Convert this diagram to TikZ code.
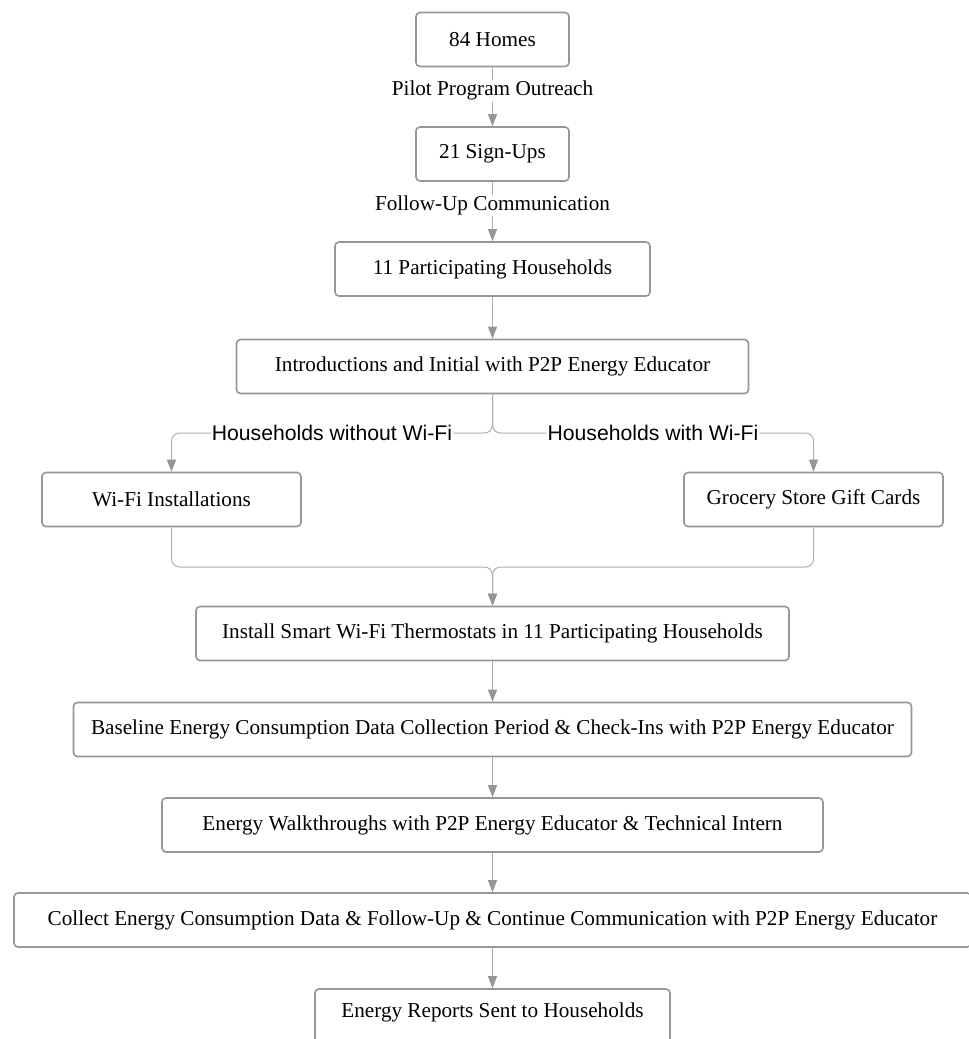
\documentclass[tikz,border=0pt]{standalone}
\usepackage{fontspec}
\setmainfont{Liberation Serif}
\newfontfamily\labelfont{Liberation Sans}
\usetikzlibrary{arrows.meta}

\definecolor{boxgray}{RGB}{150,150,150}
\definecolor{linegray}{RGB}{175,175,175}
\definecolor{tipgray}{RGB}{150,150,150}

\tikzset{
    stepbox/.style={draw=boxgray,line width=1.6pt,rounded corners=4pt,fill=white,
        minimum height=54pt,inner sep=0pt,font=\fontsize{21.2}{25}\selectfont},
    flow/.style={draw=linegray,line width=1pt,rounded corners=8pt,
        -{Triangle[width=9pt,length=12pt,color=tipgray]}},
    lbl/.style={fill=white,inner sep=1pt,font=\fontsize{21.2}{25}\selectfont},
    sidelbl/.style={fill=white,inner sep=1pt,font=\labelfont\fontsize{21.2}{25}\selectfont}
}

\begin{document}
\begin{tikzpicture}[x=1pt,y=-1pt]
    \useasboundingbox (0,0) rectangle (969,1039);
    % boxes
    \node[stepbox,minimum width=153pt] (homes) at (492.5,39.5) {84 Homes};
    \node[stepbox,minimum width=153pt] (signups) at (492.5,154) {21 Sign-Ups};
    \node[stepbox,minimum width=315pt] (participants) at (492.5,269) {11 Participating Households};
    \node[stepbox,minimum width=512pt] (intro) at (492.5,366.5) {Introductions and Initial with P2P Energy Educator};
    \node[stepbox,minimum width=259pt] (wifi) at (171.5,499.5) {Wi-Fi Installations};
    \node[stepbox,minimum width=259pt] (gift) at (813.5,499.5) {Grocery Store Gift Cards};
    \node[stepbox,minimum width=593pt] (install) at (492.5,633.5) {Install Smart Wi-Fi Thermostats in 11 Participating Households};
    \node[stepbox,minimum width=838pt] (baseline) at (492.5,729.5) {Baseline Energy Consumption Data Collection Period \& Check-Ins with P2P Energy Educator};
    \node[stepbox,minimum width=661pt] (walk) at (492.5,825) {Energy Walkthroughs with P2P Energy Educator \& Technical Intern};
    \node[stepbox,minimum width=957pt] (collect) at (492.5,920) {Collect Energy Consumption Data \& Follow-Up \& Continue Communication with P2P Energy Educator};
    \node[stepbox,minimum width=355pt,minimum height=60pt] (reports) at (492.5,1019) {};
    \node[font=\fontsize{21.2}{25}\selectfont] (reportstext) at (492.5,1012) {Energy Reports Sent to Households};

    % connectors
    \coordinate (split) at (492.5,433);
    \coordinate (merge) at (492.5,567);
    \draw[flow] (homes) -- (signups) node[lbl,pos=0.4] {Pilot Program Outreach};
    \draw[flow] (signups) -- (participants) node[lbl,pos=0.4] {Follow-Up Communication};
    \draw[flow] (participants) -- (intro);
    \draw[flow] (intro.south) -- (split) -| (wifi.north) node[sidelbl,pos=0.25] {Households without Wi-Fi};
    \draw[flow] (intro.south) -- (split) -| (gift.north) node[sidelbl,pos=0.25] {Households with Wi-Fi};
    \draw[flow] (wifi.south) |- (merge) -- (install.north);
    \draw[flow] (gift.south) |- (merge) -- (install.north);
    \draw[flow] (install) -- (baseline);
    \draw[flow] (baseline) -- (walk);
    \draw[flow] (walk) -- (collect);
    \draw[flow] (collect) -- (reports);
\end{tikzpicture}
\end{document}
